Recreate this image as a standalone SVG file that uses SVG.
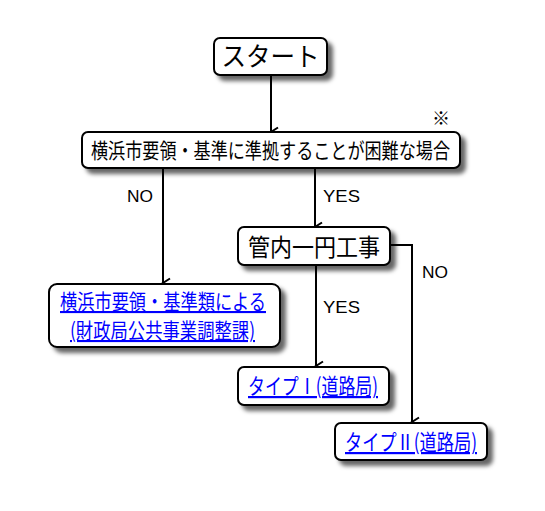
<svg xmlns="http://www.w3.org/2000/svg" width="545" height="511" viewBox="0 0 545 511">
<defs>
<filter id="sh" x="-10%" y="-20%" width="130%" height="160%">
<feDropShadow dx="5" dy="5" stdDeviation="2" flood-color="#000" flood-opacity="0.6"/>
</filter>
<marker id="ar" markerWidth="12" markerHeight="12" refX="6" refY="10" orient="auto" markerUnits="userSpaceOnUse" viewBox="0 0 12 12">
<path d="M1.5,3 L6,10 L10.5,3" fill="none" stroke="#000" stroke-width="2"/>
</marker>
</defs>
<style>
.box{fill:#fff;stroke:#000;stroke-width:2;filter:url(#sh)}
.jp{font-family:"Noto Sans CJK JP","Noto Sans CJK SC",sans-serif;fill:#000}
.lnk{fill:#0000ff;text-decoration:underline}
.lbl{font-family:"Liberation Sans",Arial,sans-serif;font-size:17px;fill:#000}
.ln{fill:none;stroke:#000;stroke-width:2}
</style>
<rect width="545" height="511" fill="#fff"/>
<g id="connectors">
<line class="ln" x1="271" y1="75" x2="271" y2="132" marker-end="url(#ar)"/>
<line class="ln" x1="163" y1="168" x2="163" y2="283" marker-end="url(#ar)"/>
<line class="ln" x1="315" y1="168" x2="315" y2="227" marker-end="url(#ar)"/>
<line class="ln" x1="316" y1="265" x2="316" y2="366" marker-end="url(#ar)"/>
<polyline class="ln" points="390,245 412,245 412,422" marker-end="url(#ar)"/>
<text class="lbl" x="127" y="202" textLength="26" lengthAdjust="spacingAndGlyphs">NO</text>
<text class="lbl" x="323" y="202" textLength="37" lengthAdjust="spacingAndGlyphs">YES</text>
<text class="lbl" x="323" y="313" textLength="37" lengthAdjust="spacingAndGlyphs">YES</text>
<text class="lbl" x="422" y="278" textLength="26" lengthAdjust="spacingAndGlyphs">NO</text>
</g>
<g id="start">
<rect class="box" x="214" y="38" width="113" height="37" rx="6"/>
<text class="jp" x="270.5" y="66" font-size="26" text-anchor="middle" textLength="98" lengthAdjust="spacingAndGlyphs">スタート</text>
</g>
<g id="note">
<text class="jp" x="441" y="125" font-size="18" text-anchor="middle">※</text>
</g>
<g id="cond1">
<rect class="box" x="82" y="132" width="378" height="36" rx="6"/>
<text class="jp" x="91" y="158" font-size="21" textLength="359" lengthAdjust="spacingAndGlyphs">横浜市要領・基準に準拠することが困難な場合</text>
</g>
<g id="yokohama">
<rect class="box" x="49" y="284" width="231" height="63" rx="8"/>
<text class="jp lnk" x="60" y="309" font-size="21" textLength="206" lengthAdjust="spacingAndGlyphs">横浜市要領・基準類による</text>
<text class="jp lnk" x="70" y="338" font-size="21" textLength="185" lengthAdjust="spacingAndGlyphs">(財政局公共事業調整課)</text>
</g>
<g id="cond2">
<rect class="box" x="238" y="227" width="152" height="38" rx="6"/>
<text class="jp" x="248" y="256" font-size="24" textLength="132" lengthAdjust="spacingAndGlyphs">管内一円工事</text>
</g>
<g id="type1">
<rect class="box" x="238" y="367" width="151" height="38" rx="6"/>
<text class="jp lnk" x="248" y="394" font-size="22" textLength="130" lengthAdjust="spacingAndGlyphs">タイプⅠ(道路局)</text>
</g>
<g id="type2">
<rect class="box" x="335" y="423" width="152" height="37" rx="6"/>
<text class="jp lnk" x="345" y="450" font-size="22" textLength="132" lengthAdjust="spacingAndGlyphs">タイプⅡ(道路局)</text>
</g>
</svg>
